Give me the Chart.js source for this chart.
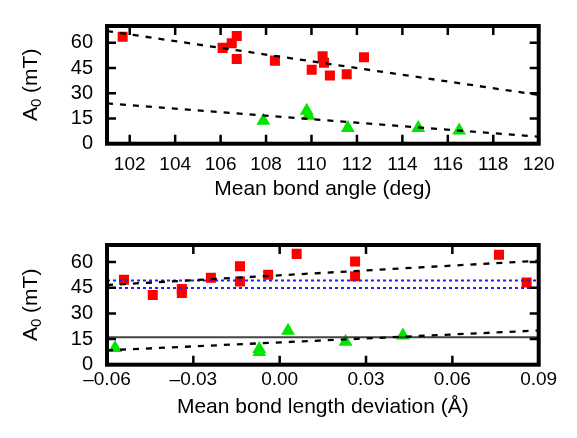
<!DOCTYPE html>
<html>
<head>
<meta charset="utf-8">
<script src="https://cdn.jsdelivr.net/npm/chart.js@4"></script>
<style>
  body { margin: 0; background: #fff; }
  #wrap { position: relative; width: 577px; height: 438px; }
  canvas { position: absolute; left: 0; }
</style>
</head>
<body>
<div id="wrap">
  <canvas id="angleChart" width="577" height="219" style="top:0"></canvas>
  <canvas id="lengthChart" width="577" height="219" style="top:219px"></canvas>
</div>
<script>
// ---- top panel: A0 vs mean bond angle ----
const angleSquareX = [101.69, 106.09, 106.49, 106.71, 106.71, 108.39, 110.01, 110.49, 110.55, 110.81, 111.55, 112.31];
const angleSquareY = [63.6, 57.0, 59.8, 64.0, 50.4, 49.4, 44.0, 52.0, 48.2, 40.5, 41.3, 51.4];
const angleTriX = [107.88, 109.79, 109.87, 111.6, 114.7, 116.5];
const angleTriY = [13.7, 19.6, 16.6, 9.4, 9.4, 7.8];
const angleFitHighX = [101, 120];
const angleFitHighY = [67.0, 29.0];
const angleFitLowX = [101, 120];
const angleFitLowY = [24.0, 4.2];
const angleTicksX = [102, 104, 106, 108, 110, 112, 114, 116, 118, 120];

// ---- bottom panel: A0 vs mean bond length deviation ----
const lengthSquareX = [-0.0541, -0.0441, -0.0340, -0.0340, -0.0239, -0.0138, -0.0138, -0.0040, 0.0059, 0.0262, 0.0262, 0.0762, 0.0858];
const lengthSquareY = [49.7, 40.7, 44.2, 42.0, 50.9, 57.6, 48.7, 52.6, 64.8, 60.3, 51.7, 64.3, 48.1];
const lengthTriX = [-0.0572, -0.0071, -0.0071, 0.0029, 0.0229, 0.0428];
const lengthTriY = [9.7, 9.2, 7.4, 19.8, 13.4, 17.1];
const lengthFitHighX = [-0.06, 0.09];
const lengthFitHighY = [46.6, 60.8];
const lengthFitLowX = [-0.06, 0.09];
const lengthFitLowY = [8.4, 20.0];
const blueLevels = [49.2, 44.9];
const grayLevel = 16.1;
const lengthTicksX = [-0.06, -0.03, 0.00, 0.03, 0.06, 0.09];

const ticksY = [0, 15, 30, 45, 60];

const tickFont = { family: 'Liberation Sans, Arial, sans-serif', size: 19 };
const titleFont = { family: 'Liberation Sans, Arial, sans-serif', size: 21 };

function pts(xs, ys) {
  return xs.map((x, i) => ({ x: x, y: ys[i] }));
}

function lineSet(xs, ys, color, width, dash) {
  return {
    data: pts(xs, ys),
    showLine: true,
    borderColor: color,
    borderWidth: width,
    borderDash: dash,
    pointRadius: 0,
    order: 0,
  };
}

function squareSet(xs, ys) {
  return { data: pts(xs, ys), pointStyle: 'rect', pointRadius: 7.1, backgroundColor: '#ff0000', borderWidth: 0, order: 2 };
}

function triSet(xs, ys) {
  return { data: pts(xs, ys), pointStyle: 'triangle', pointRadius: 8, backgroundColor: '#00e600', borderWidth: 0, order: 2 };
}

// frame, inward ticks on all four sides and the A0 axis title
const framePlugin = {
  id: 'frame',
  afterDraw(chart) {
    const ctx = chart.ctx;
    const a = chart.chartArea;
    const xs = chart.scales.x, ys = chart.scales.y;
    const len = 9;
    ctx.save();
    ctx.strokeStyle = '#000';
    ctx.lineWidth = 2.5;
    ctx.beginPath();
    xs.ticks.forEach(t => {
      if (t.value <= xs.min || t.value >= xs.max) return;
      const px = xs.getPixelForValue(t.value);
      ctx.moveTo(px, a.bottom); ctx.lineTo(px, a.bottom - len);
      ctx.moveTo(px, a.top); ctx.lineTo(px, a.top + len);
    });
    ys.ticks.forEach(t => {
      if (t.value <= ys.min || t.value >= ys.max) return;
      const py = ys.getPixelForValue(t.value);
      ctx.moveTo(a.left, py); ctx.lineTo(a.left + len, py);
      ctx.moveTo(a.right, py); ctx.lineTo(a.right - len, py);
    });
    ctx.stroke();
    ctx.lineWidth = 4;
    ctx.strokeRect(a.left, a.top, a.right - a.left, a.bottom - a.top);

    // y title: A with subscript 0
    const f = titleFont.family;
    ctx.fillStyle = '#000';
    ctx.translate(30, (a.top + a.bottom) / 2);
    ctx.rotate(-Math.PI / 2);
    ctx.textBaseline = 'alphabetic';
    ctx.font = titleFont.size + 'px ' + f;
    const wA = ctx.measureText('A').width;
    const wRest = ctx.measureText(' (mT)').width;
    ctx.font = '15px ' + f;
    const wSub = ctx.measureText('0').width;
    let x0 = -(wA + wSub + wRest) / 2;
    ctx.font = titleFont.size + 'px ' + f;
    ctx.fillText('A', x0, 7);
    ctx.font = '15px ' + f;
    ctx.fillText('0', x0 + wA, 11);
    ctx.font = titleFont.size + 'px ' + f;
    ctx.fillText(' (mT)', x0 + wA + wSub, 7);
    ctx.restore();
  }
};

function buildOptions(c) {
  return {
    responsive: false,
    animation: false,
    layout: { padding: { left: 0, right: 38.3, top: c.top, bottom: 0 } },
    plugins: { legend: { display: false }, tooltip: { enabled: false } },
    scales: {
      x: {
        type: 'linear',
        min: c.xMin,
        max: c.xMax,
        grid: { display: false, drawTicks: false },
        border: { display: false },
        ticks: { font: tickFont, color: '#000', padding: c.xPad, maxRotation: 0, autoSkip: false, callback: c.fmt },
        afterBuildTicks: s => { s.ticks = c.xTicks.map(v => ({ value: v })); },
        afterFit: s => { s.height = c.xHeight; },
        title: { display: true, text: c.xTitle, font: titleFont, color: '#000', padding: { top: 0, bottom: c.titlePad } },
      },
      y: {
        type: 'linear',
        min: 0,
        max: 70,
        grid: { display: false, drawTicks: false },
        border: { display: false },
        ticks: { font: { family: tickFont.family, size: 20 }, color: '#000', padding: 14 },
        afterBuildTicks: s => { s.ticks = ticksY.map(v => ({ value: v })); },
        afterFit: s => { s.width = 107; },
      },
    },
  };
}

new Chart(document.getElementById('angleChart'), {
  type: 'scatter',
  data: {
    datasets: [
      lineSet(angleFitHighX, angleFitHighY, '#000', 2.3, [6, 7]),
      lineSet(angleFitLowX, angleFitLowY, '#000', 2.3, [6, 7]),
      squareSet(angleSquareX, angleSquareY),
      triSet(angleTriX, angleTriY),
    ],
  },
  options: buildOptions({
    top: 2, xMin: 101, xMax: 120, xTicks: angleTicksX, xHeight: 75.3, xPad: 10, titlePad: 17,
    xTitle: 'Mean bond angle (deg)', fmt: v => String(v),
  }),
  plugins: [framePlugin],
});

new Chart(document.getElementById('lengthChart'), {
  type: 'scatter',
  data: {
    datasets: [
      lineSet(lengthFitHighX, lengthFitHighY, '#000', 2.3, [6, 7]),
      lineSet(lengthFitLowX, lengthFitLowY, '#000', 2.3, [6, 7]),
      lineSet([-0.06, 0.09], [blueLevels[0], blueLevels[0]], '#2020ff', 2, [3, 3]),
      lineSet([-0.06, 0.09], [blueLevels[1], blueLevels[1]], '#2020ff', 2, [3, 3]),
      lineSet([-0.06, 0.09], [grayLevel, grayLevel], '#444', 2, []),
      squareSet(lengthSquareX, lengthSquareY),
      triSet(lengthTriX, lengthTriY),
    ],
  },
  options: buildOptions({
    top: 6.3, xMin: -0.06, xMax: 0.09, xTicks: lengthTicksX, xHeight: 73.3, xPad: 4, titlePad: 18,
    xTitle: 'Mean bond length deviation (Å)',
    fmt: v => (v < 0 ? '\u2013' : '') + Math.abs(v).toFixed(2),
  }),
  plugins: [framePlugin],
});
</script>
</body>
</html>
